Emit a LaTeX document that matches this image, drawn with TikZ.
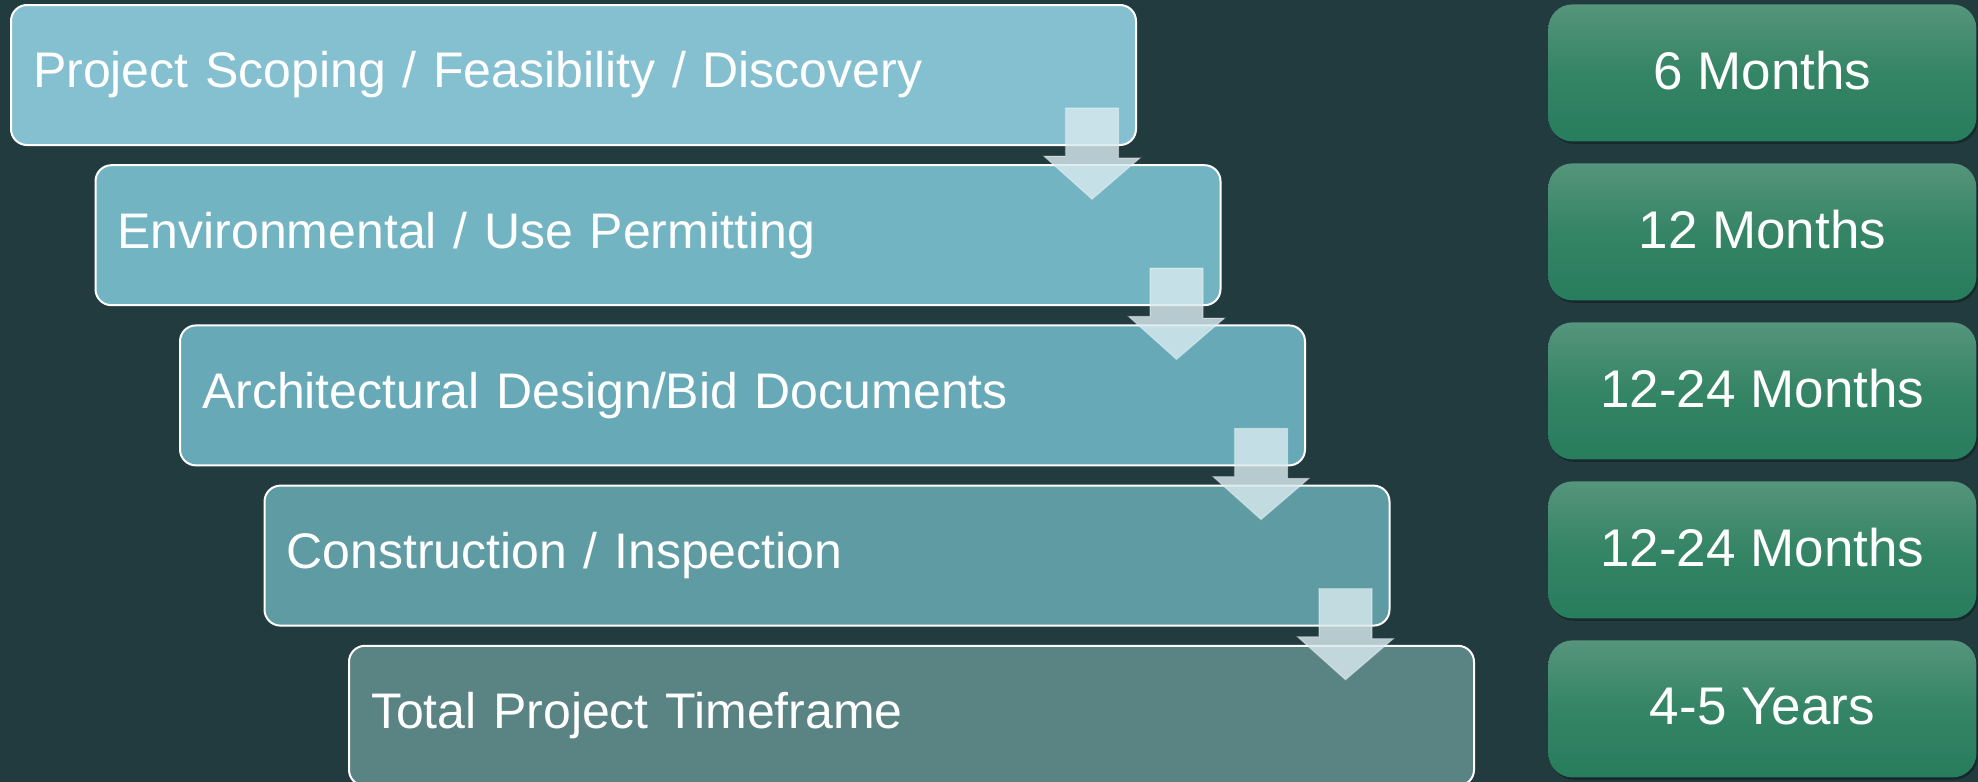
\documentclass[tikz,border=0pt]{standalone}
\usepackage{fontspec}
\setmainfont{Liberation Sans}
\usetikzlibrary{calc,shadows}
\definecolor{bg}{HTML}{223B3E}
\definecolor{sa}{HTML}{85C0D1}
\definecolor{sb}{HTML}{73B4C3}
\definecolor{sc}{HTML}{67A9B6}
\definecolor{sd}{HTML}{5E9BA3}
\definecolor{se}{HTML}{5A8383}
\definecolor{gtop}{HTML}{55957C}
\definecolor{gbot}{HTML}{277D5D}
\definecolor{arrowc}{HTML}{D8EAEF}
\begin{document}
\begin{tikzpicture}[x=0.5pt,y=-0.5pt,
  stagebox/.style={draw=white, line width=1pt, rounded corners=8pt,
    minimum width=562.5pt, minimum height=70pt, text width=540.5pt,
    align=left, inner xsep=11pt, inner ysep=0pt, anchor=north west,
    font=\fontsize{25}{30}\selectfont, text=white},
  durbox/.style={rounded corners=12pt, minimum width=214pt, minimum height=68.5pt,
    anchor=north west, top color=gtop, bottom color=gbot, middle color=gbot!70!gtop,
    font=\fontsize{26.5}{32}\selectfont, text=white, text depth=3pt,
    drop shadow={shadow xshift=0.8pt, shadow yshift=-1.2pt, opacity=0.3, fill=black}},
  steparrow/.style={fill=arrowc, fill opacity=0.82, draw=white, draw opacity=0.35, line width=0.6pt}]
\fill[bg] (0,0) rectangle (1978,782);
\useasboundingbox (0,0) rectangle (1978,782);
\node[stagebox, fill=sa] (s1) at (10,4) {Project Scoping / Feasibility / Discovery};
\node[stagebox, fill=sb] (s2) at (94.5,164.2) {Environmental / Use Permitting};
\node[stagebox, fill=sc] (s3) at (179,324.4) {Architectural Design/Bid Documents};
\node[stagebox, fill=sd] (s4) at (263.5,484.6) {Construction / Inspection};
\node[stagebox, fill=se] (s5) at (348,644.8) {Total Project Timeframe};
\foreach \a/\b in {s1/s2, s2/s3, s3/s4, s4/s5} {
  \path[steparrow] ($(\a.south east)+(-71.5,-38)$) -- ++(53,0) -- ++(0,50) -- ++(21.5,0)
    -- ($(\a.south east |- \b.north)+(-45,35)$) -- ++(-48,-43) -- ++(21.5,0) -- cycle;
}
\node[durbox] (d1) at (1548,4) {6 Months};
\node[durbox] (d2) at (1548,163) {12 Months};
\node[durbox] (d3) at (1548,322) {12-24 Months};
\node[durbox] (d4) at (1548,481) {12-24 Months};
\node[durbox] (d5) at (1548,640) {4-5 Years};
\end{tikzpicture}
\end{document}
